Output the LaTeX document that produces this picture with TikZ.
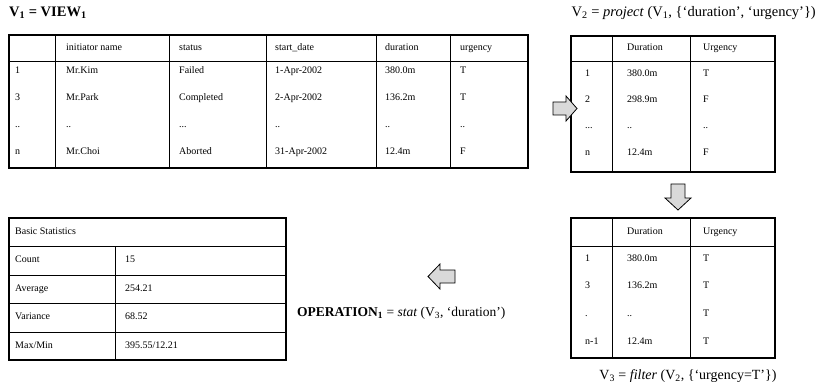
\documentclass[tikz,border=0pt]{standalone}
\usepackage{fontspec}
\setmainfont{Liberation Serif}
\begin{document}
\begin{tikzpicture}[x=1pt,y=-1pt,
  cell/.style={anchor=west, font=\fontsize{10}{12}\selectfont, inner sep=0pt, text height=7pt, text depth=2pt},
  title/.style={inner sep=0pt, font=\fontsize{14.5}{17}\selectfont},
  frame/.style={line width=1.1pt},
  rule/.style={line width=0.9pt},
  barrow/.style={draw, line width=0.8pt, fill=gray!30, line join=miter}]
\useasboundingbox (0,0) rectangle (819,390);

% ---------- V1 table ----------
\draw[frame] (9,35) rectangle (528,168);
\draw[rule] (9,61) -- (528,61);
\foreach \x in {55,169,266,376,450} \draw[rule] (\x,35) -- (\x,168);
\node[cell] (v1h2) at (66,48) {initiator name};
\node[cell] (v1h3) at (179,48) {status};
\node[cell] (v1h4) at (275,48) {start\_date};
\node[cell] (v1h5) at (385,48) {duration};
\node[cell] (v1h6) at (460,48) {urgency};

\node[cell] (v1a1) at (15,71) {1};
\node[cell] (v1a2) at (66,71) {Mr.Kim};
\node[cell] (v1a3) at (179,71) {Failed};
\node[cell] (v1a4) at (275,71) {1-Apr-2002};
\node[cell] (v1a5) at (385,71) {380.0m};
\node[cell] (v1a6) at (460,71) {T};

\node[cell] (v1b1) at (15,98) {3};
\node[cell] (v1b2) at (66,98) {Mr.Park};
\node[cell] (v1b3) at (179,98) {Completed};
\node[cell] (v1b4) at (275,98) {2-Apr-2002};
\node[cell] (v1b5) at (385,98) {136.2m};
\node[cell] (v1b6) at (460,98) {T};

\node[cell] (v1c1) at (15,125) {..};
\node[cell] (v1c2) at (66,125) {..};
\node[cell] (v1c3) at (179,125) {...};
\node[cell] (v1c4) at (275,125) {..};
\node[cell] (v1c5) at (385,125) {..};
\node[cell] (v1c6) at (460,125) {..};

\node[cell] (v1d1) at (15,152) {n};
\node[cell] (v1d2) at (66,152) {Mr.Choi};
\node[cell] (v1d3) at (179,152) {Aborted};
\node[cell] (v1d4) at (275,152) {31-Apr-2002};
\node[cell] (v1d5) at (385,152) {12.4m};
\node[cell] (v1d6) at (460,152) {F};

% ---------- V2 table ----------
\draw[frame] (571,36) rectangle (775,172);
\draw[rule] (571,61) -- (775,61);
\foreach \x in {612,690} \draw[rule] (\x,36) -- (\x,172);
\node[cell] (v2h2) at (627,48) {Duration};
\node[cell] (v2h3) at (703,48) {Urgency};
\node[cell] (v2a1) at (585,74) {1};
\node[cell] (v2a2) at (627,74) {380.0m};
\node[cell] (v2a3) at (703,74) {T};
\node[cell] (v2b1) at (585,100) {2};
\node[cell] (v2b2) at (627,100) {298.9m};
\node[cell] (v2b3) at (703,100) {F};
\node[cell] (v2c1) at (585,126) {...};
\node[cell] (v2c2) at (627,126) {..};
\node[cell] (v2c3) at (703,126) {..};
\node[cell] (v2d1) at (585,153) {n};
\node[cell] (v2d2) at (627,153) {12.4m};
\node[cell] (v2d3) at (703,153) {F};

% ---------- V3 table ----------
\draw[frame] (571,218) rectangle (775,358);
\draw[rule] (571,246) -- (775,246);
\foreach \x in {612,690} \draw[rule] (\x,218) -- (\x,358);
\node[cell] (v3h2) at (627,232) {Duration};
\node[cell] (v3h3) at (703,232) {Urgency};
\node[cell] (v3a1) at (585,259) {1};
\node[cell] (v3a2) at (627,259) {380.0m};
\node[cell] (v3a3) at (703,259) {T};
\node[cell] (v3b1) at (585,286) {3};
\node[cell] (v3b2) at (627,286) {136.2m};
\node[cell] (v3b3) at (703,286) {T};
\node[cell] (v3c1) at (585,314) {.};
\node[cell] (v3c2) at (627,314) {..};
\node[cell] (v3c3) at (703,314) {T};
\node[cell] (v3d1) at (585,342) {n-1};
\node[cell] (v3d2) at (627,342) {12.4m};
\node[cell] (v3d3) at (703,342) {T};

% ---------- Statistics table ----------
\draw[frame] (9,218) rectangle (286,360);
\foreach \y in {246,275,303,332} \draw[rule] (9,\y) -- (286,\y);
\draw[rule] (115,246) -- (115,360);
\node[cell] (sth) at (15,232) {Basic Statistics};
\node[cell] (s1a) at (15,260) {Count};    \node[cell] (s1b) at (125,260) {15};
\node[cell] (s2a) at (15,289) {Average};  \node[cell] (s2b) at (125,289) {254.21};
\node[cell] (s3a) at (15,317) {Variance}; \node[cell] (s3b) at (125,317) {68.52};
\node[cell] (s4a) at (15,346) {Max/Min};  \node[cell] (s4b) at (125,346) {395.55/12.21};

% ---------- block arrows ----------
\draw[barrow] (553,102) -- (566,102) -- (566,96) -- (577,108.5) -- (566,121) -- (566,115) -- (553,115) -- cycle;
\draw[barrow] (671,184) -- (685,184) -- (685,198) -- (691,198) -- (678,210) -- (665,198) -- (671,198) -- cycle;
\draw[barrow] (455,270) -- (440,270) -- (440,264) -- (428,276.5) -- (440,289) -- (440,283) -- (455,283) -- cycle;

% ---------- captions ----------
\node[title, anchor=west, font=\fontsize{14.5}{17}\selectfont\bfseries] (t1) at (9,13) {V\textsubscript{1} = VIEW\textsubscript{1}};
\node[title, anchor=east] (t2) at (816,13) {V\textsubscript{2} = \textit{project} (V\textsubscript{1}, \{‘duration’, ‘urgency’\})};
\node[title, anchor=west, font=\fontsize{13.5}{16}\selectfont] (op) at (297,313) {\textbf{OPERATION\textsubscript{1}} = \textit{stat} (V\textsubscript{3}, ‘duration’)};
\node[title, font=\fontsize{14}{16}\selectfont] (t3) at (688,376) {V\textsubscript{3} = \textit{filter} (V\textsubscript{2}, \{‘urgency=T’\})};
\end{tikzpicture}
\end{document}
